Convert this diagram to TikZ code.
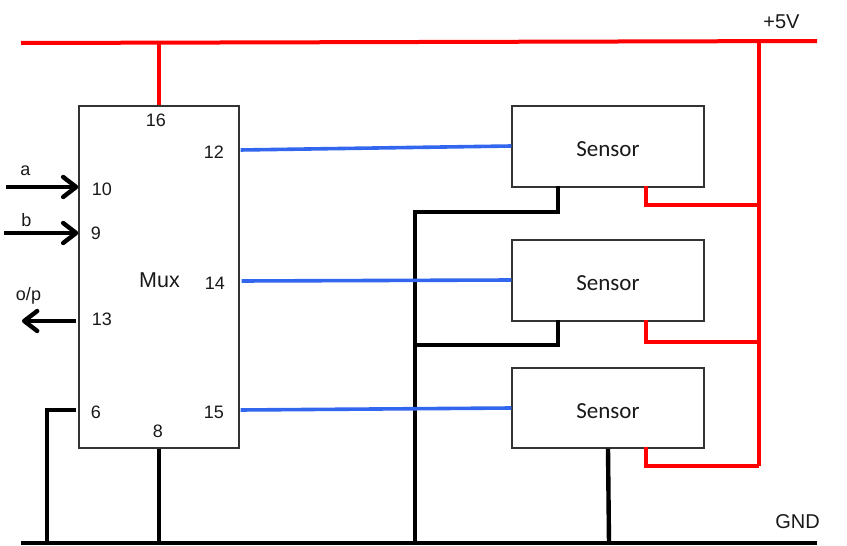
\documentclass[tikz,border=0pt]{standalone}
\usepackage{fontspec}
\setmainfont{Liberation Sans}
\newfontfamily\sensorfont{Carlito}
\usetikzlibrary{arrows.meta}
\definecolor{wireblue}{HTML}{3366EE}
\definecolor{wirered}{HTML}{FF0000}
\definecolor{boxline}{HTML}{333333}
\tikzset{
  block/.style={draw=boxline,line width=1.3pt,fill=white,inner sep=0pt,minimum width=#1},
  label/.style={inner sep=0pt,font=\fontsize{18}{20}\selectfont,text=black!90},
  senselabel/.style={inner sep=0pt,font=\sensorfont\fontsize{23}{25}\selectfont,text=black!90},
  redwire/.style={draw=wirered,line width=4pt,line join=miter},
  blackwire/.style={draw=black,line width=4.4pt,line join=miter},
  bluewire/.style={draw=wireblue,line width=3.6pt},
  sigarrow/.style={draw=black,line width=4.4pt,-{Straight Barb[round,length=13pt,width=20pt,line width=4.4pt]}},
}
\begin{document}
\begin{tikzpicture}[x=1pt,y=-1pt]
\useasboundingbox (0,0) rectangle (847,546);
% free ends
\coordinate (vl) at (21,43);
\coordinate (vr) at (817,41);
\coordinate (gl) at (21,543);
\coordinate (gr) at (817,543);
\coordinate (a0) at (6,187);
\coordinate (b0) at (4,233);
\coordinate (o1) at (22,321);
\coordinate (vt) at (159,42.5);
\coordinate (gm) at (159,543);
\coordinate (rt) at (759,42);
\coordinate (rb) at (759,466);
\coordinate (j6) at (47,410);
\coordinate (g6) at (47,543);
\coordinate (gv) at (415,543);
\coordinate (gs3) at (609,543);
% boxes
\node[block=160pt,minimum height=342pt] (mux) at (159,277) {};
\node[block=192pt,minimum height=81pt] (s1) at (608,146.5) {};
\node[block=192pt,minimum height=81pt] (s2) at (608,280.5) {};
\node[block=192pt,minimum height=80pt] (s3) at (608,408) {};
% wires to the mux rim
\draw[redwire] (vt) -- (mux.north);
\draw[blackwire] (mux.south) -- (gm);
% labels
\node[label] (t16) at (156,120) {16};
\node[label] (t12) at (214,152) {12};
\node[label] (t10) at (102,189) {10};
\node[label] (t9) at (96,233) {9};
\node[label] (t13) at (102,319) {13};
\node[label] (t6) at (96,412) {6};
\node[label] (t8) at (158,431) {8};
\node[label] (t15) at (214,412) {15};
\node[label] (t14) at (215,283) {14};
\node[label,font=\fontsize{21.5}{23}\selectfont] (tm) at (159.5,280) {Mux};
\node[label] (ta) at (25.5,171) {a};
\node[label] (tb) at (26.5,220) {b};
\node[label] (top) at (28.5,296) {o/p};
\node[label,font=\fontsize{20}{22}\selectfont] (tv) at (781.5,22) {+5V};
\node[label,font=\fontsize{20}{22}\selectfont] (tg) at (797.5,522) {GND};
\node[senselabel] (l1) at (608,149) {Sensor};
\node[senselabel] (l2) at (608,283) {Sensor};
\node[senselabel] (l3) at (608,411) {Sensor};
% power
\draw[redwire] (vl) -- (vr);
\draw[redwire] (rt) -- (rb);
\draw[redwire,shorten <=-2pt] (646,0 |- s1.south) -- (646,205) -- (759,205);
\draw[redwire,shorten <=-2pt] (646,0 |- s2.south) -- (646,342) -- (759,342);
\draw[redwire,shorten <=-2pt] (646,0 |- s3.south) -- (646,466) -- (rb);
% ground
\draw[blackwire] (gl) -- (gr);
\draw[blackwire,shorten <=-2pt] (558,0 |- s1.south) -- (558,212) -- (415,212) -- (gv);
\draw[blackwire,shorten <=-2pt] (558,0 |- s2.south) -- (558,345) -- (415,345);
\draw[blackwire] (s3.south) -- (gs3);
\draw[blackwire,shorten <=2pt] (mux.west |- j6) -- (j6) -- (g6);
% signal
\draw[bluewire,shorten <=1pt] (mux.east |- 0,150) -- (s1.west |- 0,146);
\draw[bluewire,shorten <=2pt] (mux.east |- 0,281) -- (s2.west |- 0,280);
\draw[bluewire,shorten <=1pt] (mux.east |- 0,410) -- (s3.west |- 0,408);
% arrows
\draw[sigarrow] (a0) -- (mux.west |- a0);
\draw[sigarrow] (b0) -- (mux.west |- b0);
\draw[sigarrow,shorten <=2pt] (mux.west |- o1) -- (o1);
\end{tikzpicture}
\end{document}
